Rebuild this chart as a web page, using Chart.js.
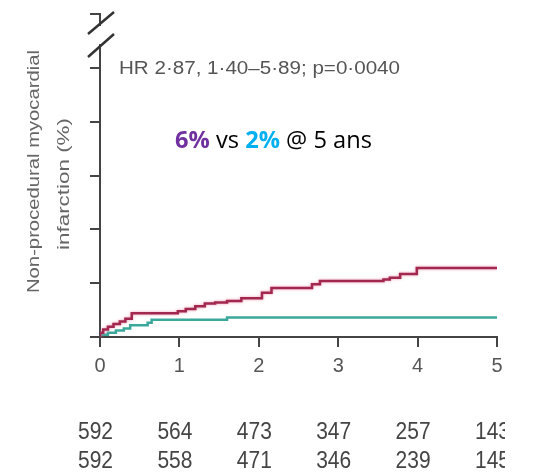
<!DOCTYPE html>
<html>
<head>
<meta charset="utf-8">
<script src="https://cdn.jsdelivr.net/npm/chart.js@4"></script>
<style>
  html, body { margin: 0; padding: 0; background: #fff; }
  canvas { display: block; }
</style>
</head>
<body>
<canvas id="km" width="535" height="476"></canvas>
<script>
  // Kaplan-Meier curves, years vs cumulative %
  const years = [0, 1, 2, 3, 4, 5];
  const redX = [0, 0.04, 0.1, 0.17, 0.25, 0.32, 0.4, 0.98, 1.08, 1.2, 1.32, 1.45, 1.6, 1.78, 2.04, 2.16, 2.67, 2.77, 3.57, 3.65, 3.78, 3.99, 4.45, 5.0];
  const redY = [0, 0.4, 0.7, 0.95, 1.2, 1.45, 1.7, 2.2, 2.4, 2.6, 2.85, 3.1, 3.2, 3.35, 3.6, 4.1, 4.55, 4.9, 5.2, 5.35, 5.5, 5.85, 6.4, 6.4];
  const tealX = [0, 0.1, 0.2, 0.3, 0.38, 0.6, 0.65, 1.6, 2.3, 5.0];
  const tealY = [0, 0.2, 0.4, 0.6, 0.8, 1.1, 1.33, 1.6, 1.82, 1.82];

  // numbers at risk under each year
  const atRiskTop = [592, 564, 473, 347, 257, 143];
  const atRiskBottom = [592, 558, 471, 346, 239, 145];

  const yTitle = ['Non-procedural myocardial', 'infarction (%)'];
  const hrText = 'HR 2·87, 1·40–5·89; p=0·0040';

  const toPts = (xs, ys) => xs.map((x, i) => ({ x: x, y: ys[i] }));

  // draw text squeezed/stretched to a given width
  function fitText(ctx, text, x, y, width, rot) {
    const w = ctx.measureText(text).width;
    ctx.save();
    ctx.translate(x, y);
    if (rot) ctx.rotate(rot);
    ctx.scale(width / w, 1);
    ctx.fillText(text, 0, 0);
    ctx.restore();
  }

  const decorPlugin = {
    id: 'decor',
    beforeDatasetDraw(chart, args) {
      const ctx = chart.ctx;
      ctx.save();
      if (args.index === 0) {
        ctx.shadowColor = 'rgba(232,120,160,0.75)';
        ctx.shadowBlur = 3;
      }
    },
    afterDatasetDraw(chart) {
      chart.ctx.restore();
    },
    afterDraw(chart) {
      const ctx = chart.ctx;
      const xs = chart.scales.x;
      const area = chart.chartArea;
      const ax = area.left;

      // axis break
      ctx.save();
      ctx.fillStyle = '#fff';
      ctx.fillRect(ax - 4, 26, 9, 18);
      ctx.strokeStyle = '#333';
      ctx.lineWidth = 2.5;
      ctx.beginPath();
      ctx.moveTo(88, 34); ctx.lineTo(114, 12);
      ctx.moveTo(88, 57); ctx.lineTo(114, 34);
      ctx.stroke();
      ctx.restore();

      // y axis title
      ctx.save();
      ctx.fillStyle = '#666';
      ctx.textAlign = 'left';
      ctx.textBaseline = 'middle';
      ctx.font = '17px "Liberation Sans", sans-serif';
      fitText(ctx, yTitle[0], 34, 293, 243, -Math.PI / 2);
      fitText(ctx, yTitle[1], 64, 250, 132, -Math.PI / 2);
      ctx.restore();

      // HR text
      ctx.save();
      ctx.fillStyle = '#555';
      ctx.textBaseline = 'middle';
      ctx.font = '18px "Liberation Sans", sans-serif';
      fitText(ctx, hrText, 119, 69, 281);
      ctx.restore();

      // "6% vs 2% @ 5 ans"
      ctx.save();
      ctx.textBaseline = 'middle';
      const parts = [
        { t: '6%', c: '#7030a0', b: true },
        { t: ' vs ', c: '#000', b: false },
        { t: '2%', c: '#00b0f0', b: true },
        { t: ' @ 5 ans', c: '#000', b: false }
      ];
      const fontFor = p => (p.b ? 'bold ' : '') + '23px "Open Sans", sans-serif';
      let total = 0;
      parts.forEach(p => { ctx.font = fontFor(p); p.w = ctx.measureText(p.t).width; total += p.w; });
      const k = 197 / total;
      let cx = 175;
      parts.forEach(p => {
        ctx.font = fontFor(p);
        ctx.fillStyle = p.c;
        fitText(ctx, p.t, cx, 141, p.w * k);
        cx += p.w * k;
      });
      ctx.restore();

      // numbers at risk (right edge cropped like the source)
      ctx.save();
      ctx.beginPath();
      ctx.rect(0, 400, 505, 76);
      ctx.clip();
      ctx.fillStyle = '#444';
      ctx.textBaseline = 'middle';
      ctx.font = '24px "Liberation Sans", sans-serif';
      years.forEach((yr, i) => {
        const px = xs.getPixelForValue(yr) - 22;
        fitText(ctx, String(atRiskTop[i]), px, 432, 35);
        fitText(ctx, String(atRiskBottom[i]), px, 461, 35);
      });
      ctx.restore();
    }
  };

  new Chart(document.getElementById('km'), {
    type: 'line',
    data: {
      datasets: [
        {
          data: toPts(redX, redY),
          borderColor: '#a3284f',
          borderWidth: 2.5,
          stepped: 'after',
          pointRadius: 0,
          fill: false
        },
        {
          data: toPts(tealX, tealY),
          borderColor: '#3aa89b',
          borderWidth: 2.5,
          stepped: 'after',
          pointRadius: 0,
          fill: false
        }
      ]
    },
    options: {
      responsive: false,
      animation: false,
      layout: { padding: { top: 14, right: 38, left: 0, bottom: 0 } },
      plugins: { legend: { display: false }, tooltip: { enabled: false } },
      scales: {
        x: {
          type: 'linear',
          min: 0,
          max: 5,
          afterFit: s => { s.height = 139; },
          ticks: {
            stepSize: 1,
            color: '#555',
            padding: 7,
            font: { family: 'Liberation Sans', size: 20 }
          },
          grid: { drawOnChartArea: false, color: '#444', lineWidth: 2, tickLength: 10 },
          border: { color: '#444', width: 2 }
        },
        y: {
          min: 0,
          max: 30,
          afterFit: s => { s.width = 100; },
          ticks: { stepSize: 5, display: false },
          grid: { drawOnChartArea: false, color: '#444', lineWidth: 2, tickLength: 10 },
          border: { color: '#444', width: 2 }
        }
      }
    },
    plugins: [decorPlugin]
  });
</script>
</body>
</html>
